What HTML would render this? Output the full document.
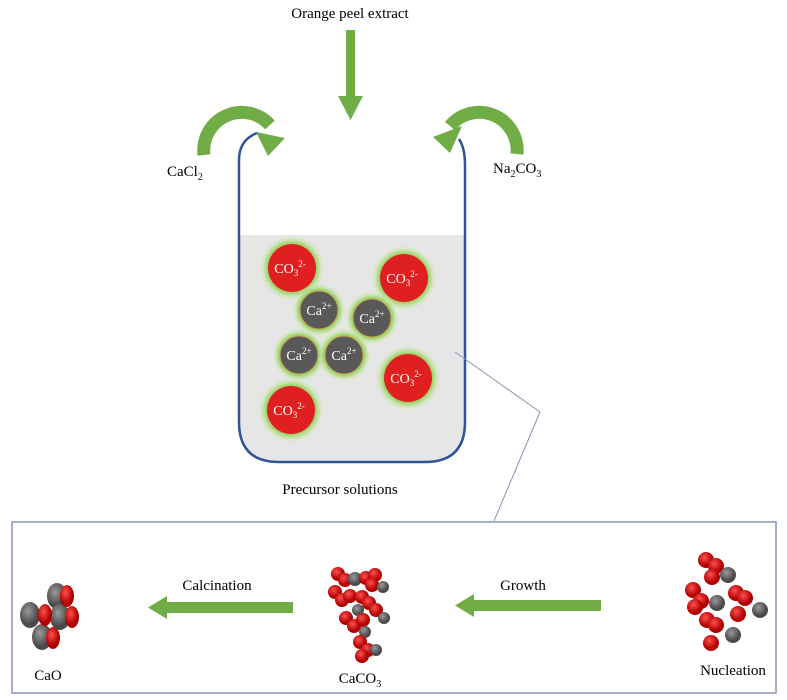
<!DOCTYPE html>
<html><head><style>
body{margin:0;background:#fff;}
svg{display:block;font-family:"Liberation Serif",serif;}
</style></head><body>
<svg width="787" height="700" viewBox="0 0 787 700" xmlns="http://www.w3.org/2000/svg">
<defs>
<radialGradient id="glow"><stop offset="0.75" stop-color="#9ed36a"/><stop offset="1" stop-color="#d8f0c0" stop-opacity="0"/></radialGradient>
<radialGradient id="rb" cx="0.4" cy="0.35"><stop offset="0" stop-color="#ff5050"/><stop offset="1" stop-color="#b00000"/></radialGradient>
<radialGradient id="gb" cx="0.4" cy="0.35"><stop offset="0" stop-color="#9a9a9a"/><stop offset="1" stop-color="#4a4a4a"/></radialGradient>
</defs>
<text x="350" y="18" font-size="15" text-anchor="middle">Orange peel extract</text>
<rect x="346" y="30" width="9" height="68" fill="#70ad47"/>
<polygon points="338,96 363,96 350.5,120" fill="#70ad47"/>
<path d="M204,155 A38,38 0 0 1 270,125" fill="none" stroke="#70ad47" stroke-width="13"/>
<polygon points="256,132 285,138 268,156" fill="#70ad47"/>
<path d="M480,150 A38,38 0 0 0 413,122" fill="none" stroke="#70ad47" stroke-width="13" transform="translate(37,4)"/>
<polygon points="462,126 433,137 450,153" fill="#70ad47"/>
<text x="167" y="176" font-size="15">CaCl<tspan font-size="10" dy="4">2</tspan></text>
<text x="493" y="173" font-size="15">Na<tspan font-size="10" dy="4">2</tspan><tspan dy="-4">CO</tspan><tspan font-size="10" dy="4">3</tspan></text>
<path d="M240,235 H464 V424 Q464,462 426,462 H278 Q240,462 240,424 Z" fill="#e6e6e6"/>
<path d="M257,133 Q239,140 239,160 V422 Q239,462 279,462 H425 Q465,462 465,422 V165 Q465,148 459,139" fill="none" stroke="#2f5597" stroke-width="2.5"/>
<g font-size="14" fill="#fff" text-anchor="middle">
<circle cx="292" cy="268" r="33" fill="url(#glow)"/><circle cx="292" cy="268" r="24" fill="#e02020"/>
<circle cx="404" cy="278" r="33" fill="url(#glow)"/><circle cx="404" cy="278" r="24" fill="#e02020"/>
<circle cx="408" cy="378" r="33" fill="url(#glow)"/><circle cx="408" cy="378" r="24" fill="#e02020"/>
<circle cx="291" cy="410" r="33" fill="url(#glow)"/><circle cx="291" cy="410" r="24" fill="#e02020"/>
<circle cx="319" cy="310" r="27" fill="url(#glow)"/><circle cx="319" cy="310" r="19" fill="#595959" stroke="#c9a050"/>
<circle cx="372" cy="318" r="27" fill="url(#glow)"/><circle cx="372" cy="318" r="19" fill="#595959" stroke="#c9a050"/>
<circle cx="299" cy="355" r="27" fill="url(#glow)"/><circle cx="299" cy="355" r="19" fill="#595959" stroke="#c9a050"/>
<circle cx="344" cy="355" r="27" fill="url(#glow)"/><circle cx="344" cy="355" r="19" fill="#595959" stroke="#c9a050"/>
<text x="290" y="273">CO<tspan font-size="9" dy="3">3</tspan><tspan font-size="9" dy="-9">2-</tspan></text>
<text x="402" y="283">CO<tspan font-size="9" dy="3">3</tspan><tspan font-size="9" dy="-9">2-</tspan></text>
<text x="406" y="383">CO<tspan font-size="9" dy="3">3</tspan><tspan font-size="9" dy="-9">2-</tspan></text>
<text x="289" y="415">CO<tspan font-size="9" dy="3">3</tspan><tspan font-size="9" dy="-9">2-</tspan></text>
<text x="319" y="315">Ca<tspan font-size="9" dy="-6">2+</tspan></text>
<text x="372" y="323">Ca<tspan font-size="9" dy="-6">2+</tspan></text>
<text x="299" y="360">Ca<tspan font-size="9" dy="-6">2+</tspan></text>
<text x="344" y="360">Ca<tspan font-size="9" dy="-6">2+</tspan></text>
</g>
<polyline points="455,352 540,412 494,521" fill="none" stroke="#8a94b8" stroke-width="1"/>
<text x="340" y="494" font-size="15" text-anchor="middle">Precursor solutions</text>
<rect x="12" y="522" width="764" height="171" fill="none" stroke="#8a94b8" stroke-width="1.5"/>
<rect x="165" y="602" width="128" height="11" fill="#70ad47"/><polygon points="148,607.5 167,596 167,619" fill="#70ad47"/>
<rect x="472" y="600" width="129" height="11" fill="#70ad47"/><polygon points="455,605.5 474,594 474,617" fill="#70ad47"/>
<text x="217" y="590" font-size="15" text-anchor="middle">Calcination</text>
<text x="523" y="590" font-size="15" text-anchor="middle">Growth</text>
<text x="48" y="680" font-size="15" text-anchor="middle">CaO</text>
<text x="360" y="683" font-size="15" text-anchor="middle">CaCO<tspan font-size="10" dy="4">3</tspan></text>
<text x="733" y="675" font-size="15" text-anchor="middle">Nucleation</text>
<g>
<ellipse cx="30" cy="615" rx="10" ry="13" fill="url(#gb)"/>
<ellipse cx="57" cy="596" rx="10" ry="13" fill="url(#gb)"/>
<ellipse cx="60" cy="617" rx="10" ry="13" fill="url(#gb)"/>
<ellipse cx="42" cy="637" rx="10" ry="13" fill="url(#gb)"/>
<ellipse cx="67" cy="596" rx="7" ry="11" fill="url(#rb)"/>
<ellipse cx="45" cy="615" rx="7" ry="11" fill="url(#rb)"/>
<ellipse cx="72" cy="617" rx="7" ry="11" fill="url(#rb)"/>
<ellipse cx="53" cy="638" rx="7" ry="11" fill="url(#rb)"/>
</g>
<g>
<circle cx="338" cy="574" r="7" fill="url(#rb)"/><circle cx="345" cy="580" r="7" fill="url(#rb)"/><circle cx="355" cy="579" r="7" fill="url(#gb)"/>
<circle cx="366" cy="578" r="7" fill="url(#rb)"/><circle cx="375" cy="575" r="7" fill="url(#rb)"/><circle cx="372" cy="585" r="7" fill="url(#rb)"/><circle cx="383" cy="587" r="6" fill="url(#gb)"/>
<circle cx="335" cy="592" r="7" fill="url(#rb)"/><circle cx="342" cy="600" r="7" fill="url(#rb)"/><circle cx="350" cy="596" r="7" fill="url(#rb)"/><circle cx="358" cy="610" r="6" fill="url(#gb)"/>
<circle cx="362" cy="597" r="7" fill="url(#rb)"/><circle cx="369" cy="603" r="7" fill="url(#rb)"/><circle cx="376" cy="610" r="7" fill="url(#rb)"/><circle cx="384" cy="618" r="6" fill="url(#gb)"/>
<circle cx="346" cy="618" r="7" fill="url(#rb)"/><circle cx="354" cy="626" r="7" fill="url(#rb)"/><circle cx="363" cy="620" r="7" fill="url(#rb)"/><circle cx="365" cy="632" r="6" fill="url(#gb)"/>
<circle cx="360" cy="642" r="7" fill="url(#rb)"/><circle cx="368" cy="650" r="7" fill="url(#rb)"/><circle cx="362" cy="656" r="7" fill="url(#rb)"/><circle cx="376" cy="650" r="6" fill="url(#gb)"/>
</g>
<g>
<circle cx="706" cy="560" r="8" fill="url(#rb)"/><circle cx="716" cy="566" r="8" fill="url(#rb)"/><circle cx="712" cy="577" r="8" fill="url(#rb)"/><circle cx="728" cy="575" r="8" fill="url(#gb)"/>
<circle cx="693" cy="590" r="8" fill="url(#rb)"/><circle cx="701" cy="601" r="8" fill="url(#rb)"/><circle cx="695" cy="607" r="8" fill="url(#rb)"/><circle cx="717" cy="603" r="8" fill="url(#gb)"/>
<circle cx="736" cy="593" r="8" fill="url(#rb)"/><circle cx="745" cy="598" r="8" fill="url(#rb)"/><circle cx="738" cy="614" r="8" fill="url(#rb)"/><circle cx="760" cy="610" r="8" fill="url(#gb)"/>
<circle cx="707" cy="620" r="8" fill="url(#rb)"/><circle cx="716" cy="625" r="8" fill="url(#rb)"/><circle cx="711" cy="643" r="8" fill="url(#rb)"/><circle cx="733" cy="635" r="8" fill="url(#gb)"/>
</g>
</svg>
</body></html>
